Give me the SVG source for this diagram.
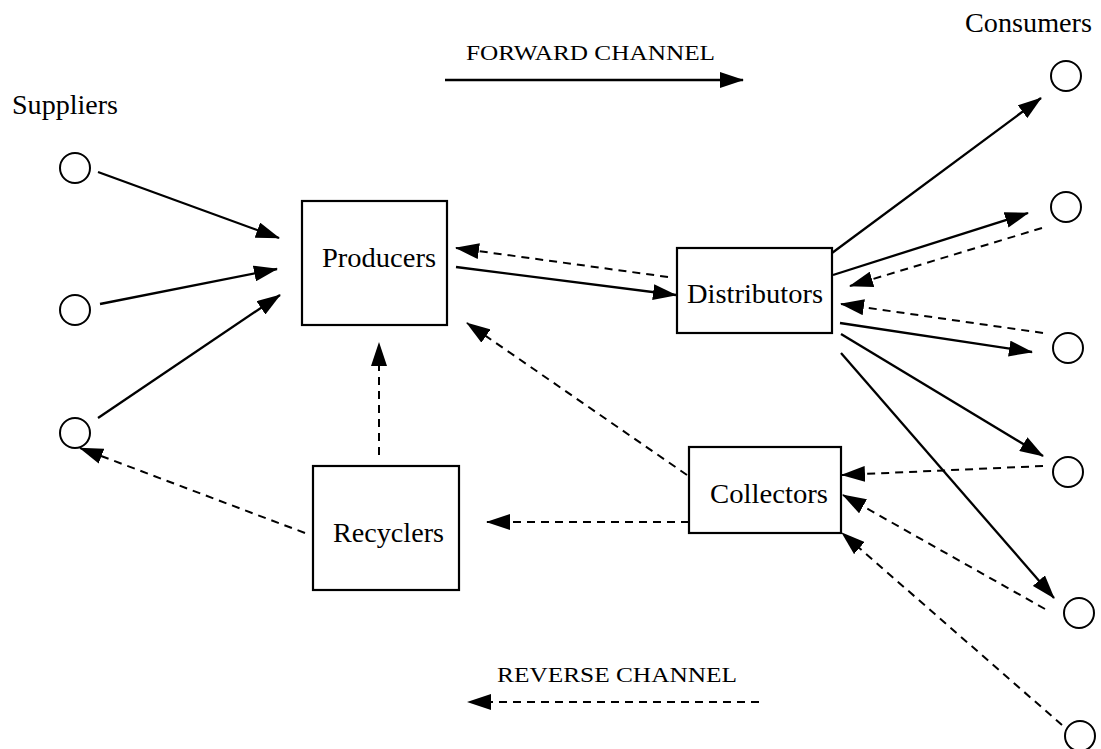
<svg xmlns="http://www.w3.org/2000/svg" width="1101" height="749" viewBox="0 0 1101 749">
<style>
.lbl{font-family:"Liberation Serif","Times New Roman",serif;font-size:27px;fill:#000}
.ch{font-family:"Liberation Serif","Times New Roman",serif;font-size:22px;fill:#000}
.box{fill:#fff;stroke:#000;stroke-width:2.2}
.node{fill:#fff;stroke:#000;stroke-width:2}
.solid{stroke:#000;stroke-width:2.3;fill:none;marker-end:url(#ah)}
.dash{stroke:#000;stroke-width:2;fill:none;stroke-dasharray:8 6;marker-end:url(#ah)}
</style>
<defs>
<marker id="ah" viewBox="0 0 24 16" refX="23" refY="8" markerWidth="24" markerHeight="16" markerUnits="userSpaceOnUse" orient="auto">
<path d="M0,0 L24,8 L0,16 z" fill="#000"/>
</marker>
</defs>
<rect width="1101" height="749" fill="#fff"/>
<g id="connectors">
<line class="solid" x1="98" y1="172" x2="279" y2="238"/>
<line class="solid" x1="100" y1="304" x2="277" y2="269"/>
<line class="solid" x1="98" y1="418" x2="280" y2="295"/>
<line class="dash" x1="305" y1="533" x2="80" y2="448"/>
<line class="dash" x1="379" y1="455" x2="379" y2="343"/>
<line class="dash" x1="687" y1="475" x2="467" y2="323"/>
<line class="dash" x1="689" y1="522" x2="487" y2="522"/>
<line class="solid" x1="456" y1="267" x2="676" y2="295"/>
<line class="dash" x1="668" y1="277" x2="456" y2="248"/>
<line class="solid" x1="832" y1="253" x2="1041" y2="98"/>
<line class="solid" x1="833" y1="275" x2="1028" y2="213"/>
<line class="solid" x1="840" y1="323" x2="1032" y2="352"/>
<line class="solid" x1="841" y1="334" x2="1043" y2="456"/>
<line class="solid" x1="841" y1="353" x2="1054" y2="598"/>
<line class="dash" x1="1042" y1="228" x2="850" y2="286"/>
<line class="dash" x1="1043" y1="333" x2="841" y2="304"/>
<line class="dash" x1="1043" y1="466" x2="842" y2="475"/>
<line class="dash" x1="1045" y1="609" x2="843" y2="495"/>
<line class="dash" x1="1062" y1="725" x2="842" y2="533"/>
<line class="solid" x1="445" y1="80" x2="743" y2="80"/>
<line class="dash" x1="759" y1="702" x2="468" y2="702"/>
</g>
<g id="suppliers">
<text class="lbl" x="12" y="114" textLength="106" lengthAdjust="spacingAndGlyphs">Suppliers</text>
<circle class="node" cx="75" cy="168" r="15"/>
<circle class="node" cx="75" cy="310" r="15"/>
<circle class="node" cx="75" cy="433" r="15"/>
</g>
<g id="consumers">
<text class="lbl" x="965" y="32" textLength="127" lengthAdjust="spacingAndGlyphs">Consumers</text>
<circle class="node" cx="1066" cy="76" r="15"/>
<circle class="node" cx="1066" cy="207" r="15"/>
<circle class="node" cx="1068" cy="348" r="15"/>
<circle class="node" cx="1068" cy="472" r="15"/>
<circle class="node" cx="1079" cy="613" r="15"/>
<circle class="node" cx="1080" cy="736" r="15"/>
</g>
<g id="producers">
<rect class="box" x="302" y="201" width="145" height="124"/>
<text class="lbl" x="322" y="267" textLength="114" lengthAdjust="spacingAndGlyphs">Producers</text>
</g>
<g id="distributors">
<rect class="box" x="677" y="248" width="155" height="85"/>
<text class="lbl" x="687" y="303" textLength="136" lengthAdjust="spacingAndGlyphs">Distributors</text>
</g>
<g id="collectors">
<rect class="box" x="689" y="447" width="152" height="86"/>
<text class="lbl" x="710" y="503" textLength="118" lengthAdjust="spacingAndGlyphs">Collectors</text>
</g>
<g id="recyclers">
<rect class="box" x="313" y="466" width="146" height="124"/>
<text class="lbl" x="333" y="542" textLength="111" lengthAdjust="spacingAndGlyphs">Recyclers</text>
</g>
<g id="channels">
<text class="ch" x="466" y="60" textLength="249" lengthAdjust="spacingAndGlyphs">FORWARD CHANNEL</text>
<text class="ch" x="497" y="682" textLength="240" lengthAdjust="spacingAndGlyphs">REVERSE CHANNEL</text>
</g>
</svg>
